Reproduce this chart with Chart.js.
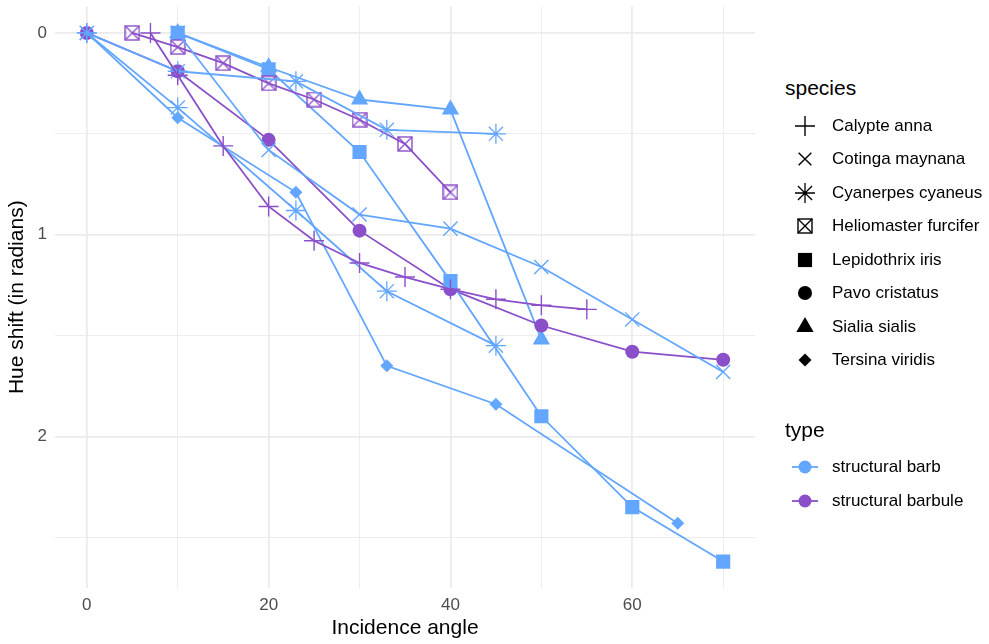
<!DOCTYPE html>
<html>
<head>
<meta charset="utf-8">
<script src="https://cdn.jsdelivr.net/npm/chart.js@4.4.0/dist/chart.umd.min.js"></script>
<style>
  body { margin: 0; background: #fff; font-family: "Liberation Sans", Arial, sans-serif; }
  #wrap { position: relative; width: 989px; height: 644px; }
  #chart { position: absolute; left: 0; top: 0; }
  .lg-title { position: absolute; left: 785px; font-size: 21px; line-height: 24px; color: #000; }
  .lg-row { position: absolute; left: 790px; height: 34px; display: flex; align-items: center; font-size: 17px; color: #000; white-space: nowrap; }
  .lg-row canvas { margin-right: 12px; }
</style>
</head>
<body>
<div id="wrap">
  <canvas id="chart" width="770" height="644"></canvas>
  <div id="legend"></div>
</div>
<script>
// data
const species = ['Calypte anna', 'Cotinga maynana', 'Cyanerpes cyaneus', 'Heliomaster furcifer',
                 'Lepidothrix iris', 'Pavo cristatus', 'Sialia sialis', 'Tersina viridis'];
const types = ['structural barb', 'structural barbule'];

const calypteX = [7, 10, 15, 20, 25, 30, 35, 40, 45, 50, 55];
const calypteY = [0, 0.21, 0.56, 0.86, 1.03, 1.14, 1.21, 1.27, 1.32, 1.35, 1.37];
const cotingaX = [10, 20, 30, 40, 50, 60, 70];
const cotingaY = [0, 0.58, 0.9, 0.97, 1.16, 1.42, 1.68];
const cyanerpesAX = [0, 10, 23, 33, 45];
const cyanerpesAY = [0, 0.19, 0.24, 0.48, 0.5];
const cyanerpesBX = [0, 10, 23, 33, 45];
const cyanerpesBY = [0, 0.37, 0.88, 1.28, 1.55];
const heliomasterX = [5, 10, 15, 20, 25, 30, 35, 40];
const heliomasterY = [0, 0.07, 0.15, 0.25, 0.33, 0.43, 0.55, 0.79];
const lepidothrixX = [10, 20, 30, 40, 50, 60, 70];
const lepidothrixY = [0, 0.18, 0.59, 1.23, 1.9, 2.35, 2.62];
const pavoX = [0, 10, 20, 30, 40, 50, 60, 70];
const pavoY = [0, 0.19, 0.53, 0.98, 1.27, 1.45, 1.58, 1.62];
const sialiaX = [10, 20, 30, 40, 50];
const sialiaY = [0, 0.17, 0.33, 0.38, 1.52];
const tersinaX = [0, 10, 23, 33, 45, 65];
const tersinaY = [0, 0.42, 0.79, 1.65, 1.84, 2.43];

const xTicks = [0, 10, 20, 30, 40, 50, 60, 70];
const xLabels = [0, 20, 40, 60];
const yTicks = [0, 0.5, 1, 1.5, 2, 2.5];
const yLabels = [0, 1, 2];

// species, type, x, y
const series = [
  ['Calypte anna', 'structural barbule', calypteX, calypteY],
  ['Cotinga maynana', 'structural barb', cotingaX, cotingaY],
  ['Cyanerpes cyaneus', 'structural barb', cyanerpesAX, cyanerpesAY],
  ['Cyanerpes cyaneus', 'structural barb', cyanerpesBX, cyanerpesBY],
  ['Heliomaster furcifer', 'structural barbule', heliomasterX, heliomasterY],
  ['Lepidothrix iris', 'structural barb', lepidothrixX, lepidothrixY],
  ['Pavo cristatus', 'structural barbule', pavoX, pavoY],
  ['Sialia sialis', 'structural barb', sialiaX, sialiaY],
  ['Tersina viridis', 'structural barb', tersinaX, tersinaY]
];

const typeColor = { 'structural barb': '#63A6FF', 'structural barbule': '#8A4FC9' };

// boxed X marker (ggplot shape 7)
function boxX(color, size) {
  const c = document.createElement('canvas');
  c.width = c.height = size + 2;
  const g = c.getContext('2d');
  g.strokeStyle = color;
  g.lineWidth = 1.4;
  const a = 1, b = size + 1;
  g.strokeRect(a, a, size, size);
  g.beginPath();
  g.moveTo(a, a); g.lineTo(b, b);
  g.moveTo(b, a); g.lineTo(a, b);
  g.stroke();
  return c;
}

function shapeFor(sp, color) {
  switch (sp) {
    case 'Calypte anna': return { style: 'cross', r: 10, bw: 1.4 };
    case 'Cotinga maynana': return { style: 'crossRot', r: 10, bw: 1.4 };
    case 'Cyanerpes cyaneus': return { style: 'star', r: 10, bw: 1.3 };
    case 'Heliomaster furcifer': return { style: boxX(color, 14), r: 8, bw: 1 };
    case 'Lepidothrix iris': return { style: 'rect', r: 10, bw: 0 };
    case 'Pavo cristatus': return { style: 'circle', r: 7, bw: 0 };
    case 'Sialia sialis': return { style: 'triangle', r: 10, bw: 0 };
    case 'Tersina viridis': return { style: 'rectRot', r: 6.5, bw: 0 };
  }
}

const datasets = series.map(([sp, type, xs, ys]) => {
  const col = typeColor[type];
  const sh = shapeFor(sp, col);
  return {
    label: sp,
    data: xs.map((x, i) => ({ x: x, y: ys[i] })),
    showLine: true,
    borderColor: col,
    backgroundColor: col,
    borderWidth: 1.8,
    pointStyle: sh.style,
    pointRadius: sh.r,
    pointBorderWidth: sh.bw,
    pointBackgroundColor: col,
    pointBorderColor: col
  };
});

const gridW = ctx => (ctx.tick && ctx.tick.major) ? 1.8 : 0.9;

new Chart(document.getElementById('chart'), {
  type: 'scatter',
  data: { datasets },
  options: {
    responsive: false,
    animation: false,
    layout: { autoPadding: false, padding: { top: 6.5, right: 15, left: 0, bottom: 0 } },
    plugins: { legend: { display: false }, tooltip: { enabled: false } },
    scales: {
      x: {
        min: -3.5, max: 73.5,
        afterBuildTicks: a => { a.ticks = xTicks.map(v => ({ value: v, major: xLabels.includes(v) })); },
        afterFit: s => { s.height = 56; s.paddingLeft = 0; s.paddingRight = 0; },
        grid: { color: '#EBEBEB', lineWidth: gridW, drawTicks: false },
        border: { display: false },
        ticks: {
          padding: 7, color: '#4D4D4D', font: { size: 17, family: '"Liberation Sans", Arial, sans-serif' },
          callback: v => xLabels.includes(v) ? String(v) : ''
        },
        title: {
          display: true, text: 'Incidence angle', color: '#000',
          font: { size: 21, family: '"Liberation Sans", Arial, sans-serif' },
          padding: { top: 0, bottom: 3.5 }
        }
      },
      y: {
        reverse: true,
        min: -0.131, max: 2.751,
        afterBuildTicks: a => { a.ticks = yTicks.map(v => ({ value: v, major: yLabels.includes(v) })); },
        afterFit: s => { s.width = 55; s.paddingTop = 0; s.paddingBottom = 0; },
        grid: { color: '#EBEBEB', lineWidth: gridW, drawTicks: false },
        border: { display: false },
        ticks: {
          padding: 8, color: '#4D4D4D', font: { size: 17, family: '"Liberation Sans", Arial, sans-serif' },
          callback: v => yLabels.includes(v) ? String(v) : ''
        },
        title: {
          display: true, text: 'Hue shift (in radians)', color: '#000',
          font: { size: 21, family: '"Liberation Sans", Arial, sans-serif' },
          padding: { top: 4.5, bottom: 0 }
        }
      }
    }
  }
});

// legend
const legend = document.getElementById('legend');
function addTitle(text, top) {
  const d = document.createElement('div');
  d.className = 'lg-title';
  d.style.top = top + 'px';
  d.textContent = text;
  legend.appendChild(d);
}
function addRow(text, top, draw) {
  const row = document.createElement('div');
  row.className = 'lg-row';
  row.style.top = top + 'px';
  const c = document.createElement('canvas');
  c.width = 30; c.height = 30;
  draw(c.getContext('2d'));
  row.appendChild(c);
  const s = document.createElement('span');
  s.textContent = text;
  row.appendChild(s);
  legend.appendChild(row);
}

addTitle('species', 76);
species.forEach((sp, i) => {
  addRow(sp, 108.5 + i * 33.5, g => {
    const sh = shapeFor(sp, '#000');
    g.fillStyle = '#000';
    g.strokeStyle = '#000';
    g.lineWidth = sh.bw;
    const r = sp === 'Cotinga maynana' ? 9 : sh.r;
    Chart.helpers.drawPoint(g, { pointStyle: sh.style, radius: r, borderWidth: sh.bw, rotation: 0 }, 15, 15);
  });
});

addTitle('type', 418);
types.forEach((t, i) => {
  addRow(t, 450 + i * 33.5, g => {
    const col = typeColor[t];
    g.strokeStyle = col;
    g.lineWidth = 1.8;
    g.beginPath(); g.moveTo(2, 15); g.lineTo(28, 15); g.stroke();
    g.fillStyle = col;
    g.beginPath(); g.arc(15, 15, 6.5, 0, Math.PI * 2); g.fill();
  });
});
</script>
</body>
</html>
